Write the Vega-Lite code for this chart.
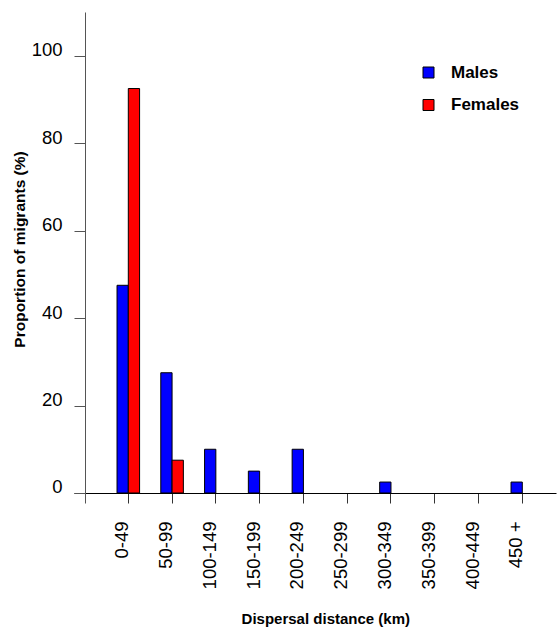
{
  "$schema": "https://vega.github.io/schema/vega-lite/v6.json",
  "width": 482,
  "height": 491,
  "autosize": {"type": "none"},
  "padding": {"left": 74, "top": 12, "right": 4, "bottom": 125},
  "config": {"view": {"stroke": null}, "font": "Liberation Sans"},
  "data": {
    "values": [
      {"distance": "0-49", "sex": "Males", "pct": 47.5},
      {"distance": "0-49", "sex": "Females", "pct": 92.5},
      {"distance": "50-99", "sex": "Males", "pct": 27.5},
      {"distance": "50-99", "sex": "Females", "pct": 7.5},
      {"distance": "100-149", "sex": "Males", "pct": 10},
      {"distance": "150-199", "sex": "Males", "pct": 5},
      {"distance": "200-249", "sex": "Males", "pct": 10},
      {"distance": "300-349", "sex": "Males", "pct": 2.5},
      {"distance": "450 +", "sex": "Males", "pct": 2.5}
    ]
  },
  "mark": {"type": "bar", "stroke": "black", "strokeWidth": 1},
  "encoding": {
    "x": {
      "field": "distance",
      "type": "nominal",
      "sort": null,
      "scale": {
        "domain": ["0-49", "50-99", "100-149", "150-199", "200-249", "250-299", "300-349", "350-399", "400-449", "450 +"],
        "paddingInner": 0,
        "paddingOuter": 0.505,
        "align": 0.733
      },
      "axis": {
        "offset": -10,
        "tickSize": 10,
        "labelAngle": -90,
        "labelAlign": "right",
        "labelBaseline": "alphabetic",
        "labelPadding": 18,
        "labelFontSize": 18.5,
        "labelColor": "black",
        "labelOverlap": false,
        "title": "Dispersal distance (km)",
        "titleFontSize": 15,
        "titleFontWeight": "bold",
        "titleColor": "black",
        "titleX": 251.3,
        "titleY": 130.7,
        "titleAlign": "center",
        "titleBaseline": "alphabetic",
        "domainColor": "black",
        "tickColor": "#333",
        "grid": false
      }
    },
    "xOffset": {
      "field": "sex",
      "scale": {"domain": ["Males", "Females"], "paddingInner": 0, "paddingOuter": 0.94}
    },
    "y": {
      "field": "pct",
      "type": "quantitative",
      "scale": {"domain": [-2.29, 110], "nice": false, "zero": false},
      "axis": {
        "values": [0, 20, 40, 60, 80, 100],
        "offset": -11,
        "tickSize": 11,
        "labelPadding": 12,
        "labelFontSize": 18.5,
        "labelColor": "black",
        "labelBaseline": "alphabetic",
        "labelOverlap": false,
        "title": "Proportion of migrants (%)",
        "titleFontSize": 15.5,
        "titleFontWeight": "bold",
        "titleColor": "black",
        "titleAngle": -90,
        "titleAlign": "center",
        "titleBaseline": "middle",
        "titleX": -65.5,
        "titleY": 237,
        "domainColor": "#555",
        "tickColor": "#555",
        "grid": false
      }
    },
    "y2": {"datum": 0},
    "color": {
      "field": "sex",
      "type": "nominal",
      "scale": {"domain": ["Males", "Females"], "range": ["#0000ff", "#ff0000"]},
      "legend": {
        "orient": "none",
        "legendX": 346,
        "legendY": 52,
        "title": null,
        "symbolType": "square",
        "symbolSize": 121,
        "symbolStrokeColor": "black",
        "symbolStrokeWidth": 1,
        "symbolOpacity": 1,
        "labelFontSize": 17,
        "labelFontWeight": "bold",
        "labelColor": "black",
        "labelOffset": 14,
        "rowPadding": 14.5,
        "padding": 0,
        "symbolOffset": 0
      }
    }
  }
}
